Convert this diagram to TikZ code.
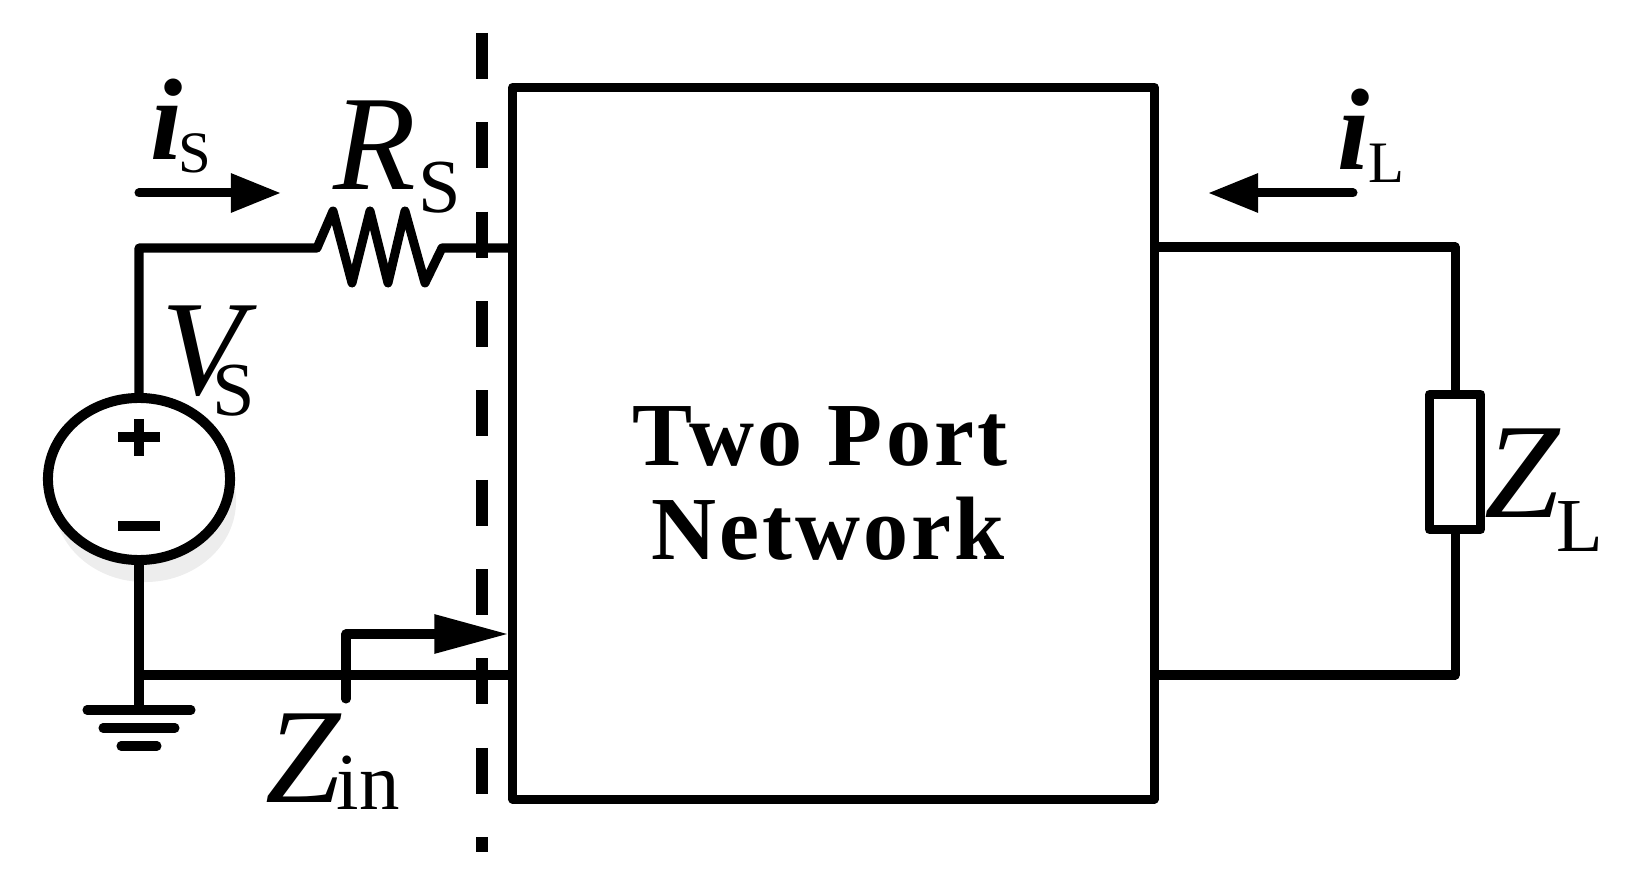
\documentclass[tikz,border=0pt]{standalone}
\usepackage{fontspec}
\setmainfont{Liberation Serif}
\newfontfamily\spacedserif[LetterSpace=3.5]{Liberation Serif}
\usetikzlibrary{arrows.meta,shapes.geometric,shadows}

\begin{document}
\begin{tikzpicture}[x=0.01cm,y=-0.01cm,line join=round,
    wire/.style={line width=0.9mm},
    cur arrow/.style={line width=0.9mm,line cap=round,-{Triangle[length=5mm,width=3.7mm]}},
    cut line/.style={line width=1.15mm,dash pattern=on 4.6mm off 4.33mm},
    ground line/.style={line width=0.9mm,line cap=round},
    main label/.style={font=\fontsize{38.5pt}{40pt}\selectfont\itshape,inner sep=0pt,anchor=base},
    cur label/.style={font=\fontsize{33pt}{35pt}\selectfont\bfseries\itshape,inner sep=0pt,anchor=base},
    sub label/.style={font=\fontsize{21.7pt}{23pt}\selectfont,inner sep=0pt,anchor=base},
    small sub/.style={font=\fontsize{16.7pt}{18pt}\selectfont,inner sep=0pt,anchor=base},
    title label/.style={font=\fontsize{25.6pt}{27pt}\selectfont\spacedserif\bfseries,inner sep=0pt,anchor=base}]
  \useasboundingbox (0,0) rectangle (1632,879);

  % two port block and load
  \node[draw,line width=0.9mm,minimum width=64.1mm,minimum height=71.15mm,inner sep=0pt] (tpn) at (833.5,443.25) {};
  \node[title label] (title1) at (820,466) {Two Port};
  \node[title label] (title2) at (828,560) {Network};
  \node[draw,line width=0.9mm,minimum width=5.1mm,minimum height=13.5mm,inner sep=0pt] (zl) at (1455,462) {};

  % source
  \node[ellipse,draw,fill=white,line width=1mm,minimum width=18.2mm,minimum height=16.2mm,inner sep=0pt,
        general shadow={fill=black!7,shadow xshift=0.6mm,shadow yshift=-2.2mm}] (vs) at (139,479) {};
  \draw[line width=1mm] (vs.center) ++(-21,-42) -- ++(42,0) (vs.center) ++(0,-60) -- ++(0,37);
  \draw[line width=0.9mm] (vs.center) ++(-21,47) -- ++(42,0);

  \coordinate (rsa) at (317,248);
  \coordinate (rsb) at (442,248);
  \coordinate (bl) at (139,675);
  \coordinate (gnd) at (139,710);
  \coordinate (p2top) at (1455,247);
  \coordinate (p2bot) at (1455,675);

  % wires
  \draw[wire] (vs.north) |- (rsa) -- ++(16,-37) -- ++(19,72) -- ++(18,-72) -- ++(18,72)
              -- ++(17,-72) -- ++(20,72) -- (rsb) -- (rsb -| tpn.west);
  \draw[wire] (vs.south) -- (gnd);
  \draw[wire] (bl) -- (bl -| tpn.west);
  \draw[wire] (p2top -| tpn.east) -- (p2top) -- (zl.north);
  \draw[wire] (zl.south) -- (p2bot) -- (p2bot -| tpn.east);

  % ground
  \draw[ground line] (gnd) ++(-52,0) -- ++(104,0);
  \draw[ground line] (gnd) ++(-36,18) -- ++(72,0);
  \draw[ground line] (gnd) ++(-18,36) -- ++(36,0);

  % reference plane
  \draw[cut line] (482,33) -- (482,852);

  % currents and input impedance
  \coordinate (isa) at (139,193);
  \coordinate (isb) at (281,193);
  \coordinate (ila) at (1353,193);
  \coordinate (ilb) at (1208,193);
  \coordinate (zinfoot) at (346,699);
  \coordinate (zintip) at (508.5,634);
  \draw[cur arrow] (isa) -- (isb);
  \draw[cur arrow] (ila) -- (ilb);
  \draw[line width=0.9mm,line cap=round,-{Triangle[length=7.4mm,width=3.7mm]}] (zinfoot) |- (zintip);

  % labels
  \node[cur label] (isi) at (167,160) {i};
  \node[small sub] (iss) at (195,173) {S};
  \node[main label] (rsr) at (375,190) {R};
  \node[sub label] (rss) at (440,213) {S};
  \node[main label] (vsv) at (203,395) {V};
  \node[sub label] (vss) at (234,416) {S};
  \node[main label] (zinz) at (303,803) {Z};
  \node[sub label,font=\fontsize{23pt}{24pt}\selectfont] (zinin) at (368,810) {in};
  \node[cur label] (ili) at (1354,170) {i};
  \node[small sub] (ill) at (1386,183) {L};
  \node[main label] (zlz) at (1522,518) {Z};
  \node[sub label] (zll) at (1580,552) {L};
\end{tikzpicture}
\end{document}
